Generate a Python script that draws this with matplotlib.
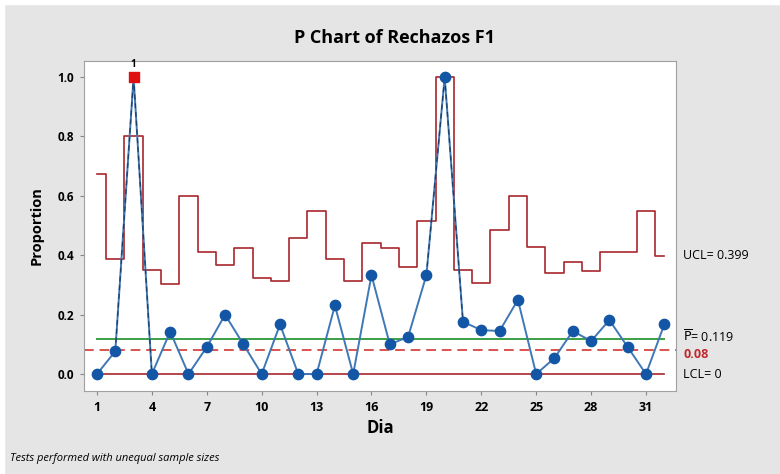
import matplotlib.pyplot as plt
import matplotlib.patches as mpatches
import numpy as np

# days (subgroups)
days = list(range(1, 33))
# proportion of rejects per day
proportion = [0.0, 0.077, 1.0, 0.0, 0.143, 0.0, 0.091, 0.2, 0.1, 0.0,
              0.167, 0.0, 0.0, 0.231, 0.0, 0.333, 0.1, 0.125, 0.333, 1.0,
              0.176, 0.148, 0.145, 0.25, 0.0, 0.054, 0.145, 0.111, 0.182, 0.091,
              0.0, 0.167]
# upper control limit per day (unequal sample sizes)
ucl = [0.674, 0.387, 0.802, 0.352, 0.302, 0.600, 0.410, 0.367, 0.426, 0.325,
       0.314, 0.459, 0.550, 0.387, 0.314, 0.442, 0.426, 0.359, 0.514, 1.0,
       0.352, 0.305, 0.485, 0.600, 0.428, 0.339, 0.376, 0.347, 0.411, 0.411,
       0.550, 0.397]
# summary values
UCL_LAST = 0.399
P_BAR = 0.119
TARGET = 0.08
LCL = 0
# points failing test 1
out_days = [3]
x_ticks = [1, 4, 7, 10, 13, 16, 19, 22, 25, 28, 31]
y_ticks = [0.0, 0.2, 0.4, 0.6, 0.8, 1.0]

BG = "#e5e5e5"
LIMIT_COLOR = "#a8262b"
LINE_COLOR = "#3f78b5"
POINT_COLOR = "#1456a6"
FONT = "Open Sans"


def step_coords(x, y):
    # step boundaries at midpoints, starting and ending on the first/last day
    xs, ys = [], []
    for i in range(len(x)):
        left = x[i] if i == 0 else x[i] - 0.5
        right = x[i] if i == len(x) - 1 else x[i] + 0.5
        xs += [left, right]
        ys += [y[i], y[i]]
    return xs, ys


def main():
    fig = plt.figure(figsize=(7.8, 4.74), dpi=100, facecolor=BG)
    # thin white border on top and left like the screenshot
    fig.patches.append(mpatches.Rectangle((0, 0), 4 / 780, 1, transform=fig.transFigure,
                                          color="white", zorder=-1))
    fig.patches.append(mpatches.Rectangle((0, 1 - 4 / 474), 1, 4 / 474, transform=fig.transFigure,
                                          color="white", zorder=-1))

    ax = fig.add_axes([84 / 780, 1 - 391 / 474, 592 / 780, 330 / 474])
    ax.set_facecolor("white")

    xs, ys = step_coords(days, ucl)
    ax.plot(xs, ys, color=LIMIT_COLOR, lw=1.2, zorder=2)
    ax.plot([days[0], days[-1]], [LCL, LCL], color=LIMIT_COLOR, lw=1.2, zorder=2)
    ax.plot([days[0], days[-1]], [P_BAR, P_BAR], color="#3aa046", lw=1.4, zorder=2)
    ax.axhline(TARGET, color="#d9534f", lw=1.4, ls=(0, (5, 3)), zorder=2)

    ax.plot(days, proportion, color=LINE_COLOR, lw=1.4, zorder=3)
    # dark dashes along the spikes
    for a, b in [(1, 2), (2, 3), (18, 19), (19, 20)]:
        ax.plot([days[a], days[b]], [proportion[a], proportion[b]], color="#1c3d66",
                lw=0.9, ls=(0, (4, 3)), zorder=3)
    in_x = [d for d in days if d not in out_days]
    in_y = [p for d, p in zip(days, proportion) if d not in out_days]
    ax.scatter(in_x, in_y, s=55, color=POINT_COLOR, zorder=4)
    out_y = [proportion[d - 1] for d in out_days]
    ax.scatter(out_days, out_y, s=50, marker="s", color="#e01010", zorder=4)
    for d, p in zip(out_days, out_y):
        ax.text(d, p + 0.025, "1", ha="center", va="bottom", fontsize=7,
                fontweight="bold", family=FONT)

    ax.set_xlim(0.29, 32.64)
    ax.set_ylim(-0.057, 1.054)
    ax.set_xticks(x_ticks)
    ax.set_yticks(y_ticks)
    ax.set_xticklabels([str(t) for t in x_ticks], fontsize=9, fontweight="bold", family=FONT)
    ax.set_yticklabels(["%.1f" % t for t in y_ticks], fontsize=8.5, fontweight="bold", family=FONT)
    ax.tick_params(length=3, color="#888888", pad=4)
    for s in ax.spines.values():
        s.set_color("#a0a0a0")

    ax.set_xlabel("Dia", fontsize=12, fontweight="bold", family=FONT, labelpad=4)
    ax.set_ylabel("Proportion", fontsize=10.5, fontweight="bold", family=FONT, labelpad=10)
    fig.text(395 / 780, 1 - 38 / 474, "P Chart of Rechazos F1", ha="center", va="center",
             fontsize=13, fontweight="bold", family=FONT)
    fig.text(10 / 780, 1 - 458 / 474, "Tests performed with unequal sample sizes",
             ha="left", va="center", fontsize=8, style="italic", family=FONT)

    # labels to the right of the plot
    tx = 683 / 780
    to_fig = lambda v: fig.transFigure.inverted().transform(ax.transData.transform((0, v)))[1]
    fig.text(tx, to_fig(UCL_LAST), "UCL= %.3f" % UCL_LAST, va="center", fontsize=9, family=FONT)
    fig.text(tx, to_fig(P_BAR) + 0.004, r"$\overline{\mathrm{P}}$= %.3f" % P_BAR, va="center",
             fontsize=9, family=FONT)
    fig.text(tx, to_fig(TARGET) - 0.008, "%.2f" % TARGET, va="center", fontsize=9,
             fontweight="bold", color="#c0282d", family=FONT)
    fig.text(tx, to_fig(LCL), "LCL= %d" % LCL, va="center", fontsize=9, family=FONT)

    fig.savefig("out.png", dpi=100, facecolor=BG)


if __name__ == "__main__":
    main()
